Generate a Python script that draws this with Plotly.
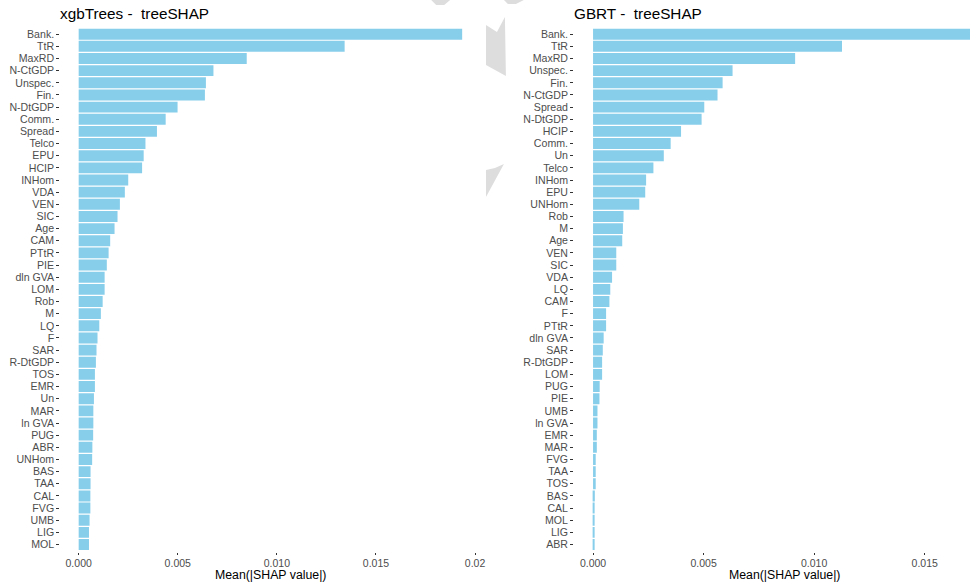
import plotly.graph_objects as go

W, H = 974, 583

# ---- data ----
left_labels = ["Bank.", "TtR", "MaxRD", "N-CtGDP", "Unspec.", "Fin.", "N-DtGDP", "Comm.", "Spread",
               "Telco", "EPU", "HCIP", "INHom", "VDA", "VEN", "SIC", "Age", "CAM", "PTtR", "PIE",
               "dln GVA", "LOM", "Rob", "M", "LQ", "F", "SAR", "R-DtGDP", "TOS", "EMR", "Un", "MAR",
               "ln GVA", "PUG", "ABR", "UNHom", "BAS", "TAA", "CAL", "FVG", "UMB", "LIG", "MOL"]
left_values = [0.01935, 0.01342, 0.00848, 0.00680, 0.00642, 0.00637, 0.00499, 0.00439, 0.00395,
               0.00337, 0.00328, 0.00320, 0.00250, 0.00233, 0.00208, 0.00196, 0.00181, 0.00159,
               0.00151, 0.00142, 0.00131, 0.00131, 0.00121, 0.00112, 0.00104, 0.00095, 0.00090,
               0.00087, 0.00082, 0.00082, 0.00077, 0.00074, 0.00074, 0.00073, 0.00069, 0.00068,
               0.00060, 0.00060, 0.00059, 0.00059, 0.00055, 0.00052, 0.00052]

right_labels = ["Bank.", "TtR", "MaxRD", "Unspec.", "Fin.", "N-CtGDP", "Spread", "N-DtGDP", "HCIP",
                "Comm.", "Un", "Telco", "INHom", "EPU", "UNHom", "Rob", "M", "Age", "VEN", "SIC",
                "VDA", "LQ", "CAM", "F", "PTtR", "dln GVA", "SAR", "R-DtGDP", "LOM", "PUG", "PIE",
                "UMB", "ln GVA", "EMR", "MAR", "FVG", "TAA", "TOS", "BAS", "CAL", "MOL", "LIG", "ABR"]
right_values = [0.01760, 0.01126, 0.00914, 0.00631, 0.00586, 0.00563, 0.00503, 0.00491, 0.00398,
                0.00351, 0.00320, 0.00273, 0.00240, 0.00236, 0.00209, 0.00138, 0.00135, 0.00132,
                0.00105, 0.00105, 0.00086, 0.00078, 0.00074, 0.00059, 0.00059, 0.00048, 0.00044,
                0.00041, 0.00041, 0.00030, 0.00029, 0.00020, 0.00020, 0.00017, 0.00017, 0.00012,
                0.00012, 0.00012, 0.00008, 0.00005, 0.00005, 0.00004, 0.00003]

left_tickvals = [0.0, 0.005, 0.010, 0.015, 0.02]
left_ticktext = ["0.000", "0.005", "0.010", "0.015", "0.02"]
right_tickvals = [0.0, 0.005, 0.010, 0.015]
right_ticktext = ["0.000", "0.005", "0.010", "0.015"]

left_title = "xgbTrees -  treeSHAP"
right_title = "GBRT -  treeSHAP"
x_title = "Mean(|SHAP value|)"

# ---- style ----
BAR = "#87CEEB"
FONT = "Liberation Sans, Arial, sans-serif"
TICKC = "#4d4d4d"

def px(x):
    return x / W

def py(y):
    return 1 - y / H

fig = go.Figure()
fig.add_trace(go.Bar(x=left_values, y=left_labels, orientation="h", width=0.9,
                     marker=dict(color=BAR, line=dict(width=0)), xaxis="x", yaxis="y",
                     showlegend=False, hoverinfo="x+y"))
fig.add_trace(go.Bar(x=right_values, y=right_labels, orientation="h", width=0.9,
                     marker=dict(color=BAR, line=dict(width=0)), xaxis="x2", yaxis="y2",
                     showlegend=False, hoverinfo="x+y"))

ydom = [py(551.8), py(26.9)]
n = len(left_labels)

common_x = dict(showgrid=False, zeroline=False, showline=False, ticks="outside", ticklen=2.5,
                tickcolor="#333333", tickwidth=1, ticklabelstandoff=-1,
                tickfont=dict(family=FONT, size=10.5, color=TICKC))
common_y = dict(showgrid=False, zeroline=False, showline=False, ticks="outside", ticklen=2.5,
                tickcolor="#333333", tickwidth=1, type="category", tickmode="linear", tick0=0, dtick=1,
                tickfont=dict(family=FONT, size=10.6, color=TICKC), range=[n - 1 + 0.6, -0.6])

fig.update_layout(
    width=W, height=H, margin=dict(l=0, r=0, t=0, b=0),
    paper_bgcolor="white", plot_bgcolor="white", bargap=0.1,
    xaxis=dict(domain=[px(60), px(483)], anchor="y", range=[(60 - 79) / 19900, (483 - 79) / 19900],
               tickmode="array", tickvals=left_tickvals, ticktext=left_ticktext, **common_x),
    yaxis=dict(domain=ydom, anchor="x", categoryorder="array", categoryarray=left_labels, **common_y),
    xaxis2=dict(domain=[px(576), 1.0], anchor="y2", range=[(576 - 595.5) / 22200, (974 - 595.5) / 22200],
                tickmode="array", tickvals=right_tickvals, ticktext=right_ticktext, **common_x),
    yaxis2=dict(domain=ydom, anchor="x2", categoryorder="array", categoryarray=right_labels, **common_y),
)

ann = []
for x0, t in [(60, left_title), (576, right_title)]:
    ann.append(dict(text=t, x=px(x0 - 2), y=py(13), xref="paper", yref="paper", xanchor="left",
                    yanchor="middle", showarrow=False, font=dict(family=FONT, size=15.3, color="black")))
for xc in [271.5, 787.5]:
    ann.append(dict(text=x_title, x=px(xc), y=py(575), xref="paper", yref="paper", xanchor="center",
                    yanchor="middle", showarrow=False, font=dict(family=FONT, size=12.3, color="black")))
fig.update_layout(annotations=ann)

# faint grey background decoration visible in the reference
def poly(pts):
    return "M " + " L ".join(f"{px(x):.5f},{py(y):.5f}" for x, y in pts) + " Z"

grey_polys = [
    [(433, 0), (452, 0), (446, 5), (438, 5)],
    [(506, 0), (526, 0), (518, 4), (510, 4)],
    [(488, 25), (499, 32), (507, 17), (508, 76), (488, 65)],
    [(488, 170), (497, 168), (506, 164), (488, 197)],
]
fig.update_layout(shapes=[dict(type="path", path=poly(p), xref="paper", yref="paper",
                               fillcolor="#dddddd", line=dict(width=0), layer="below")
                          for p in grey_polys])

fig.write_html("out.html")
